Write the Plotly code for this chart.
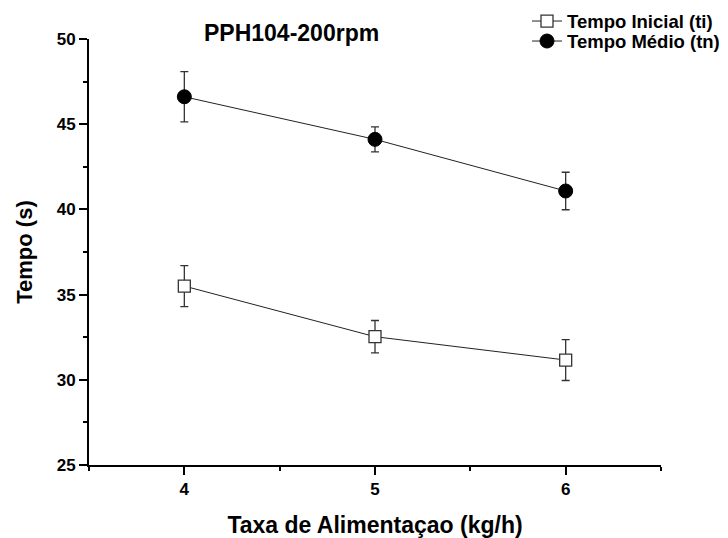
import plotly.graph_objects as go

feed_rate = [4, 5, 6]
tempo_inicial = [35.5, 32.53, 31.16]
tempo_inicial_err = [1.2, 0.95, 1.2]
tempo_medio = [46.61, 44.11, 41.08]
tempo_medio_err = [1.47, 0.73, 1.1]

FONT = "Arial, Liberation Sans, sans-serif"

fig = go.Figure()
fig.add_trace(go.Scatter(
    x=feed_rate, y=tempo_inicial, mode="lines+markers",
    name="Tempo Inicial (ti)", legend="legend",
    line=dict(color="#222222", width=1),
    marker=dict(symbol="square", size=12, color="white",
                line=dict(color="#333333", width=1.3)),
    error_y=dict(type="data", array=tempo_inicial_err, visible=True,
                 color="#333333", thickness=1.3, width=4),
))
fig.add_trace(go.Scatter(
    x=feed_rate, y=tempo_medio, mode="lines+markers",
    name="Tempo Médio (tn)", legend="legend2",
    line=dict(color="#222222", width=1),
    marker=dict(symbol="circle", size=14, color="black",
                line=dict(color="black", width=1)),
    error_y=dict(type="data", array=tempo_medio_err, visible=True,
                 color="#333333", thickness=1.3, width=4),
))

legend_font = dict(size=18.5, family=FONT, color="black", weight="bold")
fig.update_layout(
    width=728, height=538,
    margin=dict(l=89, r=67, t=39, b=73, autoexpand=False),
    paper_bgcolor="white", plot_bgcolor="white",
    font=dict(family=FONT, color="black", weight="bold"),
    showlegend=True,
    legend=dict(x=527/728, y=1 - 21.5/538, xref="container", yref="container",
                xanchor="left", yanchor="middle", font=legend_font,
                bgcolor="rgba(0,0,0,0)", itemwidth=30),
    legend2=dict(x=527/728, y=1 - 41.5/538, xref="container", yref="container",
                 xanchor="left", yanchor="middle", font=legend_font,
                 bgcolor="rgba(0,0,0,0)", itemwidth=30),
    annotations=[dict(text="PPH104-200rpm", x=(291 - 89) / 572, y=(465 - 32.5) / 426,
                      xref="paper", yref="paper", showarrow=False,
                      font=dict(size=23, family=FONT, color="black", weight="bold"),
                      xanchor="center", yanchor="middle")],
)
fig.update_xaxes(
    range=[3.5, 6.5], tickvals=[4, 5, 6],
    ticks="outside", ticklen=8, tickwidth=1.5, tickcolor="black",
    minor=dict(tickvals=[3.5, 4.5, 5.5, 6.5], ticks="outside", ticklen=4, tickwidth=1.5, tickcolor="black"),
    showline=True, linecolor="black", linewidth=1.8, showgrid=False, zeroline=False,
    tickfont=dict(size=17, family=FONT, weight="bold"),
    automargin=False,
    title=dict(text="Taxa de Alimentaçao (kg/h)", font=dict(size=23, family=FONT, weight="bold"), standoff=20),
)
fig.update_yaxes(
    range=[25, 50], tickvals=[25, 30, 35, 40, 45, 50],
    ticks="outside", ticklen=8, tickwidth=1.5, tickcolor="black",
    minor=dict(tickvals=[27.5, 32.5, 37.5, 42.5, 47.5], ticks="outside", ticklen=4, tickwidth=1.5, tickcolor="black"),
    showline=True, linecolor="black", linewidth=1.8, showgrid=False, zeroline=False,
    tickfont=dict(size=17, family=FONT, weight="bold"),
    automargin=False,
    title=dict(text="Tempo (s)", font=dict(size=22, family=FONT, weight="bold"), standoff=18),
)

fig.write_html("out.html", config={"displayModeBar": False},
               post_script="document.body.style.margin='0px';")
